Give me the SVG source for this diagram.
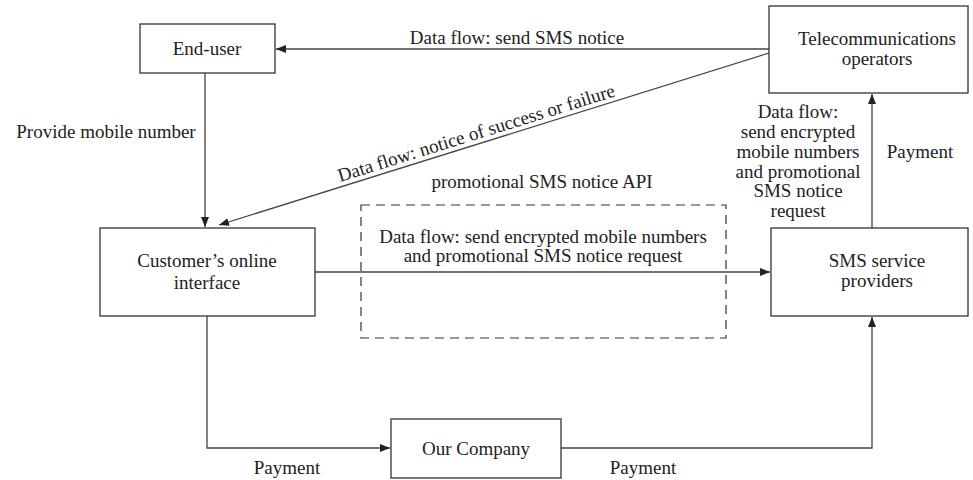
<svg xmlns="http://www.w3.org/2000/svg" width="973" height="480" viewBox="0 0 973 480">
<defs>
<marker id="arr" viewBox="0 0 10 8" refX="10" refY="4" markerWidth="10" markerHeight="8" markerUnits="userSpaceOnUse" orient="auto">
<path d="M0,0 L10,4 L0,8 Z" fill="#222"/>
</marker>
<style>
.box{fill:#fff;stroke:#333;stroke-width:1.3}
.ln{fill:none;stroke:#444;stroke-width:1.3}
.t{font-family:"Liberation Serif","Times New Roman",serif;font-size:19px;fill:#222;text-anchor:middle}
.dash{fill:none;stroke:#333;stroke-width:1.2;stroke-dasharray:9 6}
</style>
</defs>
<rect width="973" height="480" fill="#fff"/>

<g id="connectors">
<line class="ln" x1="769" y1="49" x2="276" y2="49" marker-end="url(#arr)"/>
<line class="ln" x1="769" y1="53" x2="219" y2="225" marker-end="url(#arr)"/>
<line class="ln" x1="205" y1="73" x2="205" y2="227" marker-end="url(#arr)"/>
<line class="ln" x1="315" y1="272" x2="770" y2="272" marker-end="url(#arr)"/>
<line class="ln" x1="872" y1="228" x2="872" y2="94" marker-end="url(#arr)"/>
<polyline class="ln" points="207,316 207,448 390,448" marker-end="url(#arr)"/>
<polyline class="ln" points="561,448 872,448 872,317" marker-end="url(#arr)"/>
<text class="t" x="517" y="44">Data flow: send SMS notice</text>
<text class="t" x="478" y="139" transform="rotate(-17.3 478 139)">Data flow: notice of success or failure</text>
<text class="t" x="106" y="138">Provide mobile number</text>
<text class="t" x="798" y="118">Data flow:</text>
<text class="t" x="798" y="138">send encrypted</text>
<text class="t" x="798" y="158">mobile numbers</text>
<text class="t" x="798" y="178">and promotional</text>
<text class="t" x="798" y="197">SMS notice</text>
<text class="t" x="798" y="217">request</text>
<text class="t" x="920" y="158">Payment</text>
<text class="t" x="287" y="474">Payment</text>
<text class="t" x="643" y="474">Payment</text>
</g>

<g id="api">
<rect class="dash" x="361" y="205" width="365" height="133"/>
<text class="t" x="542" y="188">promotional SMS notice API</text>
<text class="t" x="543" y="243">Data flow: send encrypted mobile numbers</text>
<text class="t" x="543" y="262">and promotional SMS notice request</text>
</g>

<g id="end-user">
<rect class="box" x="140" y="24" width="135" height="49"/>
<text class="t" x="207" y="55">End-user</text>
</g>

<g id="telecom">
<rect class="box" x="769" y="6" width="199" height="87"/>
<text class="t" x="877" y="45">Telecommunications</text>
<text class="t" x="877" y="65">operators</text>
</g>

<g id="customer">
<rect class="box" x="100" y="228" width="215" height="88"/>
<text class="t" x="207" y="267">Customer’s online</text>
<text class="t" x="207" y="289">interface</text>
</g>

<g id="sms">
<rect class="box" x="771" y="228" width="197" height="88"/>
<text class="t" x="877" y="267">SMS service</text>
<text class="t" x="877" y="287">providers</text>
</g>

<g id="company">
<rect class="box" x="391" y="419" width="170" height="59"/>
<text class="t" x="476" y="455">Our Company</text>
</g>
</svg>
